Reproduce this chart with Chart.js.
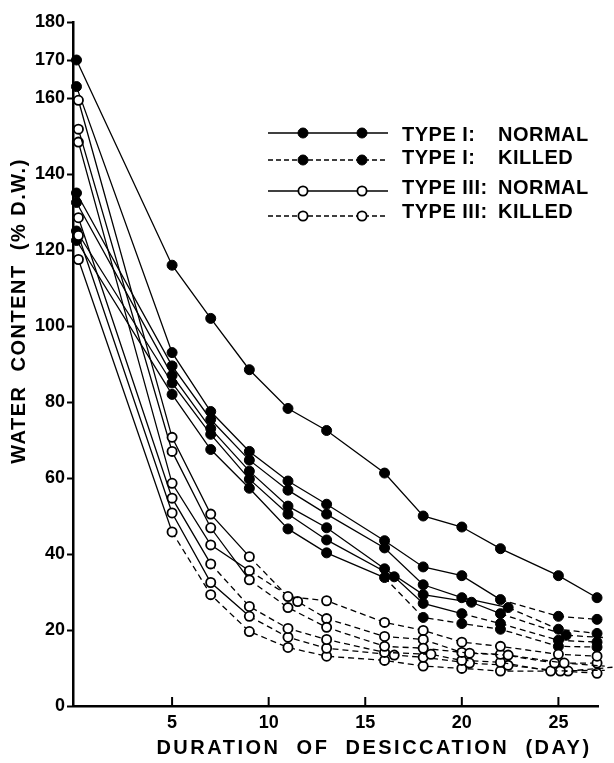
<!DOCTYPE html>
<html><head><meta charset="utf-8">
<script src="https://cdn.jsdelivr.net/npm/chart.js@4/dist/chart.umd.min.js"></script>
<style>html,body{margin:0;padding:0;background:#fff}#wrap{width:614px;height:763px;position:relative}</style>
</head><body><div id="wrap"><canvas id="c"></canvas></div>
<script>
// ---- data ----
const days = [0, 5, 7, 9, 11, 13, 16, 18, 20, 22, 25, 27];
const xTickValues = [5, 10, 15, 20, 25];
const yTickValues = [0, 20, 40, 60, 80, 100, 120, 140, 160, 170, 180];
const xTitle = "DURATION  OF  DESICCATION  (DAY)";
const yTitle = "WATER  CONTENT  (% D.W.)";
const legendKinds = ["TYPE I:", "TYPE I:", "TYPE III:", "TYPE III:"];
const legendStates = ["NORMAL", "KILLED", "NORMAL", "KILLED"];

// Type I (filled circles)
const f1Days = [0.05, 5, 7, 9, 11, 13, 16, 18, 20, 22, 25, 27];
const f1 = [170, 116, 102, 88.5, 78.3, 72.5, 61.3, 50, 47.1, 41.4, 34.3, 28.5];
const f2Days = [0.05, 5, 7, 9, 11, 13, 16, 18, 20, 22, 25, 27];
const f2 = [163, 93, 77.5, 67, 59.2, 53.1, 43.5, 36.6, 34.3, 28, 23.6, 22.8];
const f3Days = [0.05, 5, 7, 9, 11, 13, 16, 18, 20, 22.4, 25, 27];
const f3 = [135, 89.5, 75.4, 64.7, 56.8, 50.5, 41.6, 31.9, 28.5, 25.9, 20.2, 19.1];
const f4Days = [0.05, 5, 7, 9, 11, 13, 16, 18, 20.5, 22, 25.4, 27.4];
const f4 = [132.5, 87, 73, 61.8, 52.6, 46.9, 36.1, 29.3, 27.3, 24.3, 18.6, 18];
const f5Days = [0.05, 5, 7, 9, 11, 13, 16.5, 18, 20, 22, 25, 27];
const f5 = [125, 85, 71.5, 59.7, 50.5, 43.7, 34, 27, 24.3, 21.7, 17.3, 16.8];
const f6Days = [0.05, 5, 7, 9, 11, 13, 16, 18, 20, 22, 25, 27];
const f6 = [122.5, 82, 67.5, 57.3, 46.6, 40.3, 33.8, 23.3, 21.7, 20.2, 15.7, 15.5];
// day after which each Type I curve is drawn dashed (killed)
const fKilledAfter = [Infinity, 22, 22, 22, 20, 16];

// Type III (open circles)
const o1Days = [0.15, 5, 7, 9, 11, 13, 16, 18, 20, 22, 25, 27];
const o1 = [159.4, 70.7, 50.5, 39.3, 28.8, 27.7, 22, 19.9, 16.8, 15.7, 13.6, 13.1];
const o2Days = [0.15, 5, 7, 9, 11, 13, 16, 18, 20.4, 22.4, 25.3, 27.4];
const o2 = [151.8, 67, 46.9, 33.2, 25.9, 20.7, 15.7, 15.2, 13.9, 13.4, 11.3, 10.5];
const o3Days = [0.15, 5, 7, 9, 11.5, 13, 16, 18, 20, 22, 24.8, 27];
const o3 = [148.4, 58.6, 42.4, 35.6, 27.5, 23, 18.3, 17.5, 14.1, 13.6, 11.3, 11.3];
const o4Days = [0.15, 5, 7, 9, 11, 13, 16, 18.4, 20, 22, 24.6, 27.4];
const o4 = [128.5, 54.7, 37.4, 26.2, 20.4, 17.5, 14.1, 13.6, 12, 11.5, 9.2, 9.4];
const o5Days = [0.15, 5, 7, 9, 11, 13, 16.5, 18, 20.4, 22.4, 25.1, 27];
const o5 = [123.8, 50.8, 32.5, 23.6, 18.1, 15.2, 13.4, 12.8, 11.3, 10.7, 9.2, 8.6];
const o6Days = [0.15, 5, 7, 9, 11, 13, 16, 18, 20, 22, 25.5, 27.8];
const o6 = [117.5, 45.8, 29.3, 19.6, 15.4, 13.1, 12, 10.5, 9.9, 9.2, 9.2, 10.2];
const oKilledAfter = [9, 9, 9, 7, 9, 5];

// ---- build chart ----
const FONT = '"Liberation Sans", Arial, sans-serif';
const fSeries = [[f1Days, f1], [f2Days, f2], [f3Days, f3], [f4Days, f4], [f5Days, f5], [f6Days, f6]];
const oSeries = [[o1Days, o1], [o2Days, o2], [o3Days, o3], [o4Days, o4], [o5Days, o5], [o6Days, o6]];

function makeDataset(pair, killedAfter, filled, idx) {
  const [xs, ys] = pair;
  return {
    label: (filled ? 'I-' : 'III-') + (idx + 1),
    data: xs.map((x, i) => ({ x: x, y: ys[i] })),
    borderColor: '#000',
    borderWidth: 1.3,
    pointRadius: filled ? 5 : 4.6,
    pointHoverRadius: filled ? 5 : 4.6,
    pointBackgroundColor: filled ? '#000' : '#fff',
    pointBorderColor: '#000',
    pointBorderWidth: filled ? 1 : 1.8,
    tension: 0,
    fill: false,
    clip: false,
    segment: {
      borderDash: ctx => (ctx.p0.parsed.x >= killedAfter - 0.01 ? [6, 4] : undefined)
    }
  };
}

const datasets = [];
oSeries.forEach((p, i) => datasets.push(makeDataset(p, oKilledAfter[i], false, i)));
fSeries.forEach((p, i) => datasets.push(makeDataset(p, fKilledAfter[i], true, i)));

const decorPlugin = {
  id: 'decor',
  afterDraw(chart) {
    const ctx = chart.ctx;
    const xs = chart.scales.x;
    const area = chart.chartArea;
    ctx.save();
    // inner x ticks
    ctx.strokeStyle = '#000';
    ctx.lineWidth = 2;
    xTickValues.forEach(v => {
      const px = xs.getPixelForValue(v);
      ctx.beginPath();
      ctx.moveTo(px, area.bottom);
      ctx.lineTo(px, area.bottom - 9);
      ctx.stroke();
    });
    // axis titles
    ctx.fillStyle = '#000';
    ctx.font = 'bold 20px ' + FONT;
    ctx.textAlign = 'center';
    ctx.textBaseline = 'middle';
    try { ctx.letterSpacing = '2.5px'; } catch (e) {}
    ctx.fillText(xTitle, 374, 748);
    ctx.save();
    ctx.translate(19, 311);
    ctx.rotate(-Math.PI / 2);
    try { ctx.letterSpacing = '1.5px'; } catch (e) {}
    ctx.fillText(yTitle, 0, 0);
    ctx.restore();
    // legend
    const lineRows = [133, 160, 191, 216];
    const textRows = [134, 157, 187, 211];
    lineRows.forEach((ry, i) => {
      const dashed = (i % 2 === 1);
      const filled = (i < 2);
      ctx.save();
      ctx.lineWidth = 1.3;
      ctx.setLineDash(dashed ? [5, 3] : []);
      ctx.beginPath();
      ctx.moveTo(268, ry);
      ctx.lineTo(388, ry);
      ctx.stroke();
      ctx.setLineDash([]);
      [303, 362].forEach(cx => {
        ctx.beginPath();
        ctx.arc(cx, ry, filled ? 5 : 4.6, 0, Math.PI * 2);
        ctx.fillStyle = filled ? '#000' : '#fff';
        ctx.fill();
        ctx.lineWidth = filled ? 1 : 1.8;
        ctx.stroke();
      });
      ctx.restore();
      ctx.fillStyle = '#000';
      ctx.font = 'bold 20px ' + FONT;
      ctx.textAlign = 'left';
      ctx.textBaseline = 'middle';
      try { ctx.letterSpacing = '0.5px'; } catch (e) {}
      ctx.fillText(legendKinds[i], 402, textRows[i] + 1);
      ctx.fillText(legendStates[i], 498, textRows[i] + 1);
    });
    ctx.restore();
  }
};

new Chart(document.getElementById('c'), {
  type: 'line',
  data: { datasets: datasets },
  options: {
    responsive: true,
    maintainAspectRatio: false,
    animation: false,
    events: [],
    layout: { padding: { top: 22, right: 16, left: 0, bottom: 0 } },
    plugins: { legend: { display: false }, tooltip: { enabled: false } },
    scales: {
      x: {
        type: 'linear',
        min: -0.13,
        max: 27.05,
        afterFit: s => { s.height = 57; },
        afterBuildTicks: s => { s.ticks = xTickValues.map(v => ({ value: v })); },
        ticks: {
          color: '#000',
          font: { family: FONT, size: 18, weight: 'bold' },
          padding: 6,
          maxRotation: 0
        },
        grid: { display: true, drawOnChartArea: false, drawTicks: false },
        border: { display: true, color: '#000', width: 2.5 }
      },
      y: {
        type: 'linear',
        min: 0,
        max: 180,
        afterFit: s => { s.width = 73; },
        afterBuildTicks: s => { s.ticks = yTickValues.map(v => ({ value: v })); },
        ticks: {
          color: '#000',
          font: { family: FONT, size: 18, weight: 'bold' },
          padding: 2
        },
        grid: { display: true, drawOnChartArea: false, drawTicks: true, tickLength: 6, tickColor: '#000', tickWidth: 2 },
        border: { display: true, color: '#000', width: 2.5 }
      }
    }
  },
  plugins: [decorPlugin]
});
</script>
</body></html>
